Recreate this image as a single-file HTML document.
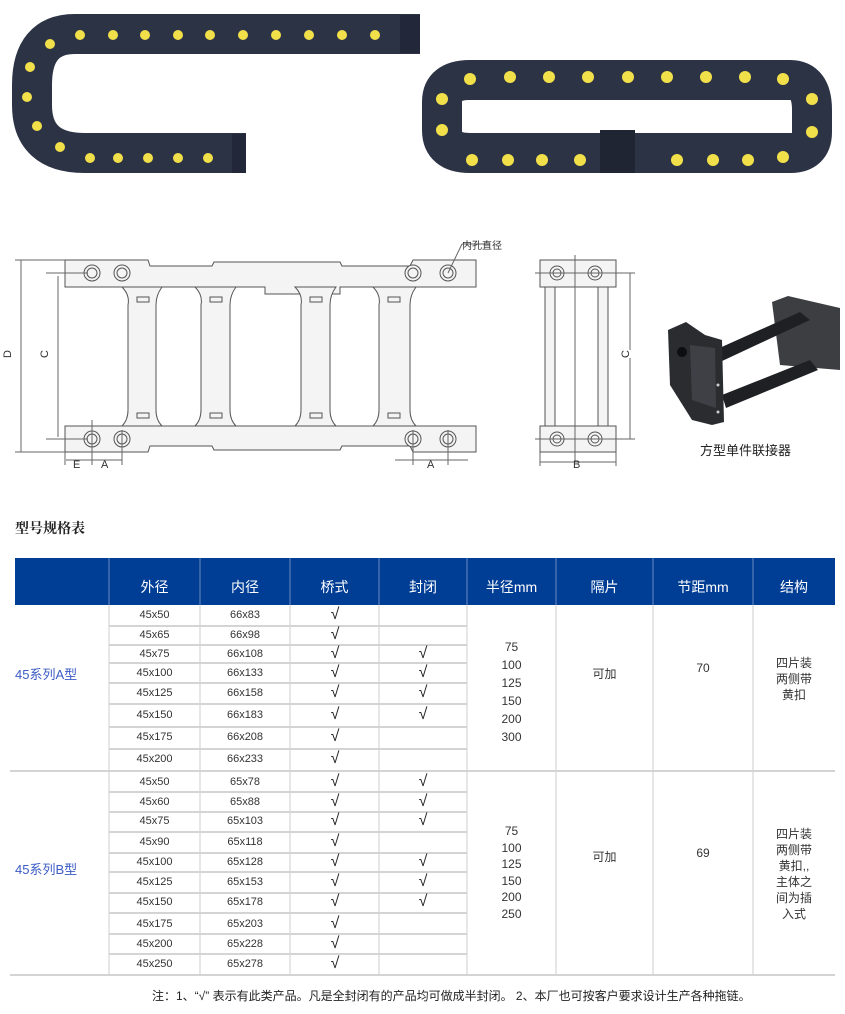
<!DOCTYPE html>
<html><head><meta charset="utf-8"><style>
body{margin:0;width:845px;height:1014px;background:#fff;position:relative;overflow:hidden;font-family:"Liberation Sans","Noto Sans CJK SC",sans-serif}
.a{position:absolute}
.t{position:absolute;font-size:11px;color:#333;text-align:center;white-space:nowrap}
.h{position:absolute;color:#fff;font-size:14px;text-align:center;top:577px}
.ck{position:absolute;font-size:16px;color:#222;width:30px;text-align:center}
</style></head><body>
<svg class="a" style="left:0;top:0" width="845" height="200">
<g fill="none" stroke="#2c3345" stroke-linecap="butt">
<path d="M420 34 L75 34 Q32 34 32 85 L32 105 Q32 153 85 153 L246 153" stroke-width="40"/>
<path d="M470 80 L790 80 Q812 80 812 110 L812 132 Q812 153 790 153 L470 153 Q442 153 442 130 L442 102 Q442 80 470 80 Z" stroke-width="40"/>
</g>
<rect x="400" y="15" width="20" height="38" fill="#22283a"/>
<rect x="232" y="134" width="14" height="39" fill="#22283a"/>
<rect x="600" y="130" width="35" height="43" fill="#1f2533"/>
<g fill="#f2e04a">
<circle cx="50" cy="44" r="5"/><circle cx="80" cy="35" r="5"/><circle cx="113" cy="35" r="5"/><circle cx="145" cy="35" r="5"/><circle cx="178" cy="35" r="5"/><circle cx="210" cy="35" r="5"/><circle cx="243" cy="35" r="5"/><circle cx="276" cy="35" r="5"/><circle cx="309" cy="35" r="5"/><circle cx="342" cy="35" r="5"/><circle cx="375" cy="35" r="5"/>
<circle cx="30" cy="67" r="5"/><circle cx="27" cy="97" r="5"/><circle cx="37" cy="126" r="5"/><circle cx="60" cy="147" r="5"/><circle cx="90" cy="158" r="5"/><circle cx="118" cy="158" r="5"/><circle cx="148" cy="158" r="5"/><circle cx="178" cy="158" r="5"/><circle cx="208" cy="158" r="5"/>
<circle cx="470" cy="79" r="6"/><circle cx="510" cy="77" r="6"/><circle cx="549" cy="77" r="6"/><circle cx="588" cy="77" r="6"/><circle cx="628" cy="77" r="6"/><circle cx="667" cy="77" r="6"/><circle cx="706" cy="77" r="6"/><circle cx="745" cy="77" r="6"/><circle cx="783" cy="79" r="6"/>
<circle cx="442" cy="99" r="6"/><circle cx="442" cy="130" r="6"/><circle cx="812" cy="99" r="6"/><circle cx="812" cy="132" r="6"/>
<circle cx="472" cy="160" r="6"/><circle cx="508" cy="160" r="6"/><circle cx="542" cy="160" r="6"/><circle cx="580" cy="160" r="6"/><circle cx="677" cy="160" r="6"/><circle cx="713" cy="160" r="6"/><circle cx="748" cy="160" r="6"/><circle cx="783" cy="157" r="6"/>
</g>
</svg>
<svg class="a" style="left:0;top:230" width="845" height="260" fill="none" stroke="#666" stroke-width="1">
<g fill="#f4f4f4" stroke="#555">
<path d="M65 30 H148 L150 36 H212 L214 32 H340 L342 36 H410 L413 30 H476 V57 H340 V64 H265 V57 H65 Z"/>
<path d="M65 196 H476 V222 H413 L410 216 H342 L340 220 H214 L212 216 H150 L148 222 H65 Z"/>
<path d="M122 57 Q130 65 128 75 V180 Q128 190 122 196 H162 Q156 190 156 180 V75 Q156 65 162 57 Z"/>
<path d="M195 57 Q203 65 201 75 V180 Q201 190 195 196 H236 Q230 190 230 180 V75 Q230 65 236 57 Z"/>
<path d="M295 57 Q303 65 301 75 V180 Q301 190 295 196 H336 Q330 190 330 180 V75 Q330 65 336 57 Z"/>
<path d="M373 57 Q381 65 379 75 V180 Q379 190 373 196 H416 Q410 190 410 180 V75 Q410 65 416 57 Z"/>
<rect x="137" y="67" width="12" height="5"/><rect x="210" y="67" width="12" height="5"/><rect x="310" y="67" width="12" height="5"/><rect x="388" y="67" width="12" height="5"/>
<rect x="137" y="183" width="12" height="5"/><rect x="210" y="183" width="12" height="5"/><rect x="310" y="183" width="12" height="5"/><rect x="388" y="183" width="12" height="5"/>
<circle cx="92" cy="43" r="8"/><circle cx="122" cy="43" r="8"/><circle cx="413" cy="43" r="8"/><circle cx="448" cy="43" r="8"/>
<circle cx="92" cy="209" r="8"/><circle cx="122" cy="209" r="8"/><circle cx="413" cy="209" r="8"/><circle cx="448" cy="209" r="8"/>
<circle cx="92" cy="43" r="5"/><circle cx="122" cy="43" r="5"/><circle cx="413" cy="43" r="5"/><circle cx="448" cy="43" r="5"/>
<circle cx="92" cy="209" r="5"/><circle cx="122" cy="209" r="5"/><circle cx="413" cy="209" r="5"/><circle cx="448" cy="209" r="5"/>
<rect x="540" y="30" width="76" height="27"/><rect x="540" y="196" width="76" height="26"/>
<rect x="545" y="57" width="10" height="139"/><rect x="598" y="57" width="10" height="139"/>
<circle cx="557" cy="43" r="7"/><circle cx="595" cy="43" r="7"/><circle cx="557" cy="209" r="7"/><circle cx="595" cy="209" r="7"/>
<circle cx="557" cy="43" r="4"/><circle cx="595" cy="43" r="4"/><circle cx="557" cy="209" r="4"/><circle cx="595" cy="209" r="4"/>
</g>
<line x1="21" y1="30" x2="21" y2="222"/><line x1="15" y1="30" x2="65" y2="30"/><line x1="15" y1="222" x2="65" y2="222"/>
<line x1="58" y1="46" x2="58" y2="207"/><line x1="46" y1="43" x2="88" y2="43"/><line x1="46" y1="209" x2="88" y2="209"/>
<line x1="92" y1="190" x2="92" y2="235"/><line x1="122" y1="200" x2="122" y2="235"/><line x1="65" y1="222" x2="65" y2="235"/>
<line x1="66" y1="230" x2="122" y2="230"/>
<line x1="413" y1="200" x2="413" y2="235"/><line x1="448" y1="200" x2="448" y2="235"/><line x1="395" y1="230" x2="468" y2="230"/>
<line x1="448" y1="43" x2="462" y2="14"/><line x1="462" y1="14" x2="490" y2="14"/>
<line x1="575" y1="25" x2="575" y2="232"/><line x1="535" y1="43" x2="635" y2="43"/><line x1="535" y1="209" x2="635" y2="209"/>
<line x1="630" y1="43" x2="630" y2="209"/><line x1="540" y1="222" x2="540" y2="236"/><line x1="616" y1="222" x2="616" y2="236"/>
<line x1="540" y1="232" x2="616" y2="232"/>
</svg>
<div class="t" style="left:462px;top:237px;font-size:10px">内孔直径</div>
<div class="t" style="left:4px;top:348px;transform:rotate(-90deg);font-size:11px">D</div>
<div class="t" style="left:41px;top:348px;transform:rotate(-90deg);font-size:11px;background:#fff">C</div>
<div class="t" style="left:622px;top:348px;transform:rotate(-90deg);font-size:11px;background:#fff">C</div>
<div class="t" style="left:73px;top:459px">E</div><div class="t" style="left:101px;top:459px">A</div>
<div class="t" style="left:427px;top:459px">A</div><div class="t" style="left:573px;top:459px">B</div>
<svg class="a" style="left:660px;top:290px" width="185" height="140">
<path d="M112 12 L128 6 L180 18 L180 80 L120 75 Z" fill="#3c3e42"/>
<path d="M55 60 L140 22 L150 30 L60 72 Z" fill="#1e2024"/>
<path d="M62 105 L150 70 L158 80 L66 118 Z" fill="#1e2024"/>
<path d="M8 40 L26 32 L45 45 L62 50 L64 132 L52 135 L32 130 L10 95 Z" fill="#2a2c30"/>
<path d="M30 55 L55 58 L56 118 L32 110 Z" fill="#3e4045"/>
<circle cx="22" cy="62" r="5" fill="#0e0e10"/>
<circle cx="58" cy="95" r="1.5" fill="#ccc"/><circle cx="58" cy="122" r="1.5" fill="#ccc"/>
</svg>
<div class="t" style="left:700px;top:440px;font-size:13px;color:#222">方型单件联接器</div>
<div class="a" style="left:15px;top:518px;font-size:14px;font-weight:bold;font-family:'Liberation Serif','Noto Serif CJK SC',serif;color:#222">型号规格表</div>
<div class="a" style="left:15px;top:558px;width:820px;height:47px;background:#003e96"></div>
<svg class="a" style="left:0;top:558px" width="845" height="420" stroke="#ccc" stroke-width="1">
<g stroke="#6d89bf"><line x1="109" y1="0" x2="109" y2="47"/><line x1="200" y1="0" x2="200" y2="47"/><line x1="290" y1="0" x2="290" y2="47"/><line x1="379" y1="0" x2="379" y2="47"/><line x1="467" y1="0" x2="467" y2="47"/><line x1="556" y1="0" x2="556" y2="47"/><line x1="653" y1="0" x2="653" y2="47"/><line x1="753" y1="0" x2="753" y2="47"/></g>
<g stroke="#ccc"><line x1="109" y1="47" x2="109" y2="417"/><line x1="200" y1="47" x2="200" y2="417"/><line x1="290" y1="47" x2="290" y2="417"/><line x1="379" y1="47" x2="379" y2="417"/><line x1="467" y1="47" x2="467" y2="417"/><line x1="556" y1="47" x2="556" y2="417"/><line x1="653" y1="47" x2="653" y2="417"/><line x1="753" y1="47" x2="753" y2="417"/></g>
<g stroke-width="2" stroke="#d4d4d4">
<line x1="109" y1="68" x2="467" y2="68"/><line x1="109" y1="87" x2="467" y2="87"/><line x1="109" y1="105" x2="467" y2="105"/><line x1="109" y1="125" x2="467" y2="125"/><line x1="109" y1="146" x2="467" y2="146"/><line x1="109" y1="169" x2="467" y2="169"/><line x1="109" y1="191" x2="467" y2="191"/>
<line x1="10" y1="213" x2="835" y2="213"/>
<line x1="109" y1="234" x2="467" y2="234"/><line x1="109" y1="254" x2="467" y2="254"/><line x1="109" y1="274" x2="467" y2="274"/><line x1="109" y1="295" x2="467" y2="295"/><line x1="109" y1="314" x2="467" y2="314"/><line x1="109" y1="335" x2="467" y2="335"/><line x1="109" y1="355" x2="467" y2="355"/><line x1="109" y1="376" x2="467" y2="376"/><line x1="109" y1="396" x2="467" y2="396"/>
<line x1="10" y1="417" x2="835" y2="417"/></g>
</svg>
<div class="h" style="left:109px;width:91px">外径</div><div class="h" style="left:200px;width:90px">内径</div><div class="h" style="left:290px;width:89px">桥式</div><div class="h" style="left:379px;width:88px">封闭</div><div class="h" style="left:467px;width:89px">半径mm</div><div class="h" style="left:556px;width:97px">隔片</div><div class="h" style="left:653px;width:100px">节距mm</div><div class="h" style="left:753px;width:82px">结构</div>
<div class="t" style="left:109px;width:91px;top:609px">45x50</div><div class="t" style="left:200px;width:90px;top:609px">66x83</div><div class="ck" style="left:320px;top:606px">√</div>
<div class="t" style="left:109px;width:91px;top:629px">45x65</div><div class="t" style="left:200px;width:90px;top:629px">66x98</div><div class="ck" style="left:320px;top:626px">√</div>
<div class="t" style="left:109px;width:91px;top:648px">45x75</div><div class="t" style="left:200px;width:90px;top:648px">66x108</div><div class="ck" style="left:320px;top:645px">√</div><div class="ck" style="left:408px;top:645px">√</div>
<div class="t" style="left:109px;width:91px;top:667px">45x100</div><div class="t" style="left:200px;width:90px;top:667px">66x133</div><div class="ck" style="left:320px;top:664px">√</div><div class="ck" style="left:408px;top:664px">√</div>
<div class="t" style="left:109px;width:91px;top:687px">45x125</div><div class="t" style="left:200px;width:90px;top:687px">66x158</div><div class="ck" style="left:320px;top:684px">√</div><div class="ck" style="left:408px;top:684px">√</div>
<div class="t" style="left:109px;width:91px;top:709px">45x150</div><div class="t" style="left:200px;width:90px;top:709px">66x183</div><div class="ck" style="left:320px;top:706px">√</div><div class="ck" style="left:408px;top:706px">√</div>
<div class="t" style="left:109px;width:91px;top:731px">45x175</div><div class="t" style="left:200px;width:90px;top:731px">66x208</div><div class="ck" style="left:320px;top:728px">√</div>
<div class="t" style="left:109px;width:91px;top:753px">45x200</div><div class="t" style="left:200px;width:90px;top:753px">66x233</div><div class="ck" style="left:320px;top:750px">√</div>
<div class="a" style="left:15px;top:664px;font-size:13px;color:#3b5cc4">45系列A型</div>
<div class="t" style="left:467px;width:89px;top:638px;line-height:18px;font-size:12px">75<br>100<br>125<br>150<br>200<br>300</div>
<div class="t" style="left:556px;width:97px;top:665px;font-size:12px">可加</div>
<div class="t" style="left:653px;width:100px;top:661px;font-size:12px">70</div>
<div class="t" style="left:753px;width:82px;top:655px;line-height:16px;font-size:12px">四片装<br>两侧带<br>黄扣</div>
<div class="t" style="left:109px;width:91px;top:776px">45x50</div><div class="t" style="left:200px;width:90px;top:776px">65x78</div><div class="ck" style="left:320px;top:773px">√</div><div class="ck" style="left:408px;top:773px">√</div>
<div class="t" style="left:109px;width:91px;top:796px">45x60</div><div class="t" style="left:200px;width:90px;top:796px">65x88</div><div class="ck" style="left:320px;top:793px">√</div><div class="ck" style="left:408px;top:793px">√</div>
<div class="t" style="left:109px;width:91px;top:815px">45x75</div><div class="t" style="left:200px;width:90px;top:815px">65x103</div><div class="ck" style="left:320px;top:812px">√</div><div class="ck" style="left:408px;top:812px">√</div>
<div class="t" style="left:109px;width:91px;top:836px">45x90</div><div class="t" style="left:200px;width:90px;top:836px">65x118</div><div class="ck" style="left:320px;top:833px">√</div>
<div class="t" style="left:109px;width:91px;top:856px">45x100</div><div class="t" style="left:200px;width:90px;top:856px">65x128</div><div class="ck" style="left:320px;top:853px">√</div><div class="ck" style="left:408px;top:853px">√</div>
<div class="t" style="left:109px;width:91px;top:876px">45x125</div><div class="t" style="left:200px;width:90px;top:876px">65x153</div><div class="ck" style="left:320px;top:873px">√</div><div class="ck" style="left:408px;top:873px">√</div>
<div class="t" style="left:109px;width:91px;top:896px">45x150</div><div class="t" style="left:200px;width:90px;top:896px">65x178</div><div class="ck" style="left:320px;top:893px">√</div><div class="ck" style="left:408px;top:893px">√</div>
<div class="t" style="left:109px;width:91px;top:918px">45x175</div><div class="t" style="left:200px;width:90px;top:918px">65x203</div><div class="ck" style="left:320px;top:915px">√</div>
<div class="t" style="left:109px;width:91px;top:938px">45x200</div><div class="t" style="left:200px;width:90px;top:938px">65x228</div><div class="ck" style="left:320px;top:935px">√</div>
<div class="t" style="left:109px;width:91px;top:958px">45x250</div><div class="t" style="left:200px;width:90px;top:958px">65x278</div><div class="ck" style="left:320px;top:955px">√</div>
<div class="a" style="left:15px;top:859px;font-size:13px;color:#3b5cc4">45系列B型</div>
<div class="t" style="left:467px;width:89px;top:823px;line-height:16.5px;font-size:12px">75<br>100<br>125<br>150<br>200<br>250</div>
<div class="t" style="left:556px;width:97px;top:848px;font-size:12px">可加</div>
<div class="t" style="left:653px;width:100px;top:846px;font-size:12px">69</div>
<div class="t" style="left:753px;width:82px;top:826px;line-height:16px;font-size:12px">四片装<br>两侧带<br>黄扣,,<br>主体之<br>间为插<br>入式</div>
<div class="a" style="left:152px;top:987px;font-size:12px;color:#222;white-space:nowrap">注：1、“√” 表示有此类产品。凡是全封闭有的产品均可做成半封闭。 2、本厂也可按客户要求设计生产各种拖链。</div>
</body></html>
